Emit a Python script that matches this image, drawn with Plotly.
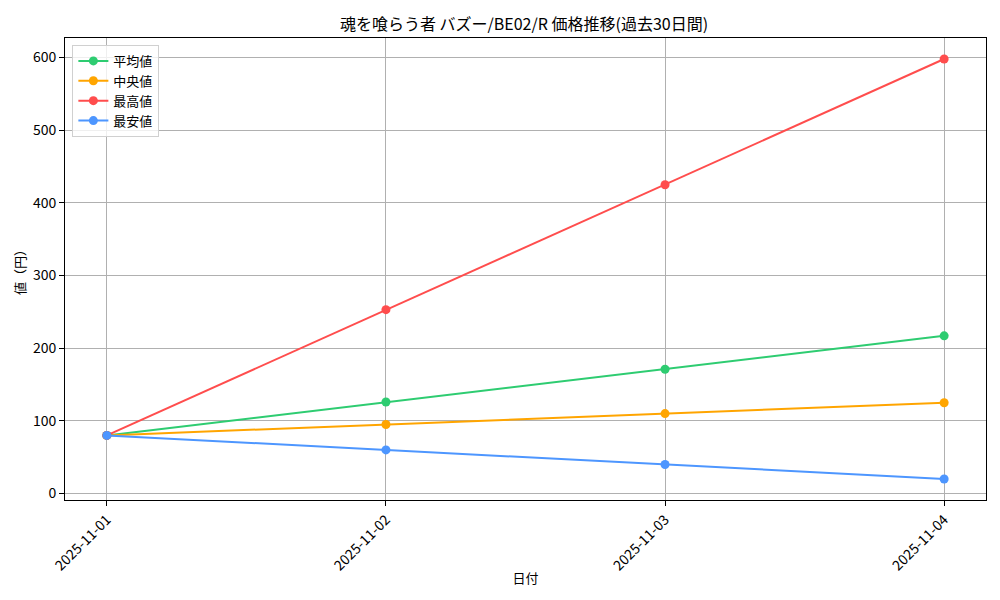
import plotly.graph_objects as go

dates = ["2025-11-01", "2025-11-02", "2025-11-03", "2025-11-04"]
avg_vals = [80, 126, 171, 217]
median_vals = [80, 95, 110, 125]
max_vals = [80, 253, 425, 598]
min_vals = [80, 60, 40, 20]

series = [
    ("平均値", avg_vals, "#2ecc71"),
    ("中央値", median_vals, "#ffa500"),
    ("最高値", max_vals, "#ff4d4d"),
    ("最安値", min_vals, "#4d96ff"),
]

font_name = "Noto Sans CJK JP"

fig = go.Figure()
for name, vals, color in series:
    fig.add_trace(go.Scatter(
        x=dates, y=vals, name=name, mode="lines+markers",
        line=dict(color=color, width=2),
        marker=dict(color=color, size=9),
    ))

lo = min(min(v) for _, v, _ in series)
hi = max(max(v) for _, v, _ in series)
pad = (hi - lo) * 0.05

# page has an 8px body margin, so margins are shifted to compensate
fig.update_layout(
    width=1000, height=600,
    paper_bgcolor="white", plot_bgcolor="white",
    font=dict(family=font_name, size=13, color="black"),
    title=dict(text="魂を喰らう者 バズー/BE02/R 価格推移(過去30日間)",
               x=0.516, xanchor="center", y=0.973, yanchor="middle",
               font=dict(size=16)),
    margin=dict(l=57, r=22, t=30, b=108, autoexpand=False),
    legend=dict(x=0.008, y=0.985, xanchor="left", yanchor="top",
                bgcolor="rgba(255,255,255,0.8)", bordercolor="#d0d0d0",
                borderwidth=1, font=dict(size=13), tracegroupgap=0),
    showlegend=True,
)
fig.update_xaxes(
    type="category", range=[-0.15, 3.15], automargin=False,
    showgrid=True, gridcolor="#b0b0b0", gridwidth=1,
    showline=True, linecolor="black", linewidth=1, mirror=True,
    ticks="outside", ticklen=5, tickcolor="black", tickangle=-45,
    tickfont=dict(size=14),
    title=dict(text="日付", standoff=0, font=dict(size=13)),
    zeroline=False,
)
fig.update_yaxes(
    range=[lo - pad, hi + pad], dtick=100, automargin=False,
    showgrid=True, gridcolor="#b0b0b0", gridwidth=1,
    showline=True, linecolor="black", linewidth=1, mirror=True,
    ticks="outside", ticklen=5, tickcolor="black",
    tickfont=dict(size=14),
    title=dict(text="値（円）", standoff=4, font=dict(size=13)),
    zeroline=False,
)

fig.write_html("out.html")
